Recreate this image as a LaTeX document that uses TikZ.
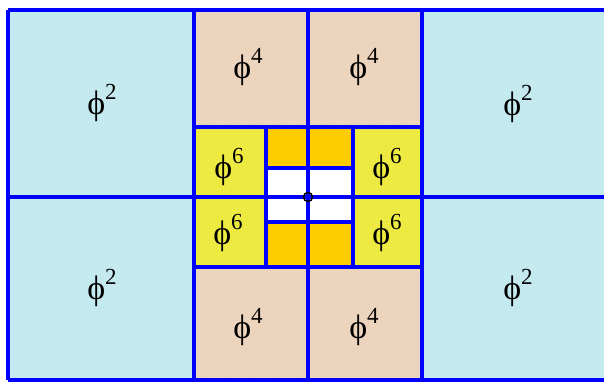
\documentclass[tikz,border=0pt]{standalone}
\usepackage{fontspec}
\setmainfont{Liberation Serif}
\usetikzlibrary{patterns}
\definecolor{wcyan}{RGB}{196,234,240}
\definecolor{wtan}{RGB}{236,210,186}
\definecolor{wyel}{RGB}{236,236,70}
\definecolor{worange}{RGB}{255,204,0}
\definecolor{wblue}{RGB}{0,0,255}
\tikzset{
  gridline/.style={draw=wblue,line width=3.5pt},
  lbl/.style={font=\fontsize{34}{38}\selectfont,inner sep=0pt},
}
\newcommand{\ph}[1]{ϕ\raisebox{0.42em}{\fontsize{23}{26}\selectfont #1}}
\begin{document}
\begin{tikzpicture}[x=1pt,y=-1pt]
\useasboundingbox (0,0) rectangle (604,381);
\fill[white] (0,0) rectangle (604,381);
% regions
\fill[wcyan] (8,10) rectangle (606,380);
\fill[wtan] (194,10) rectangle (422,380);
\fill[wyel] (194,127) rectangle (422,267);
\fill[worange] (266,127) rectangle (353,267);
\fill[white] (266,168) rectangle (353,222);
% textures (subtle)
\fill[pattern=dots,pattern color=yellow!60!orange] (194,127) rectangle (266,267);
\fill[pattern=dots,pattern color=yellow!60!orange] (353,127) rectangle (422,267);
\fill[pattern=crosshatch dots,pattern color=brown!25] (194,10) rectangle (422,127);
\fill[pattern=crosshatch dots,pattern color=brown!25] (194,267) rectangle (422,380);
% grid lines
\draw[gridline] (8,10) -- (606,10);
\draw[gridline] (8,380) -- (606,380);
\draw[gridline] (8,10) -- (8,380);
\draw[gridline] (194,10) -- (194,380);
\draw[gridline] (422,10) -- (422,380);
\draw[gridline] (308,10) -- (308,380);
\draw[gridline] (8,197) -- (606,197);
\draw[gridline] (194,127) -- (422,127);
\draw[gridline] (194,267) -- (422,267);
\draw[gridline] (266,127) -- (266,267);
\draw[gridline] (353,127) -- (353,267);
\draw[gridline] (266,168) -- (353,168);
\draw[gridline] (266,222) -- (353,222);
\node[circle,draw=black,line width=1.5pt,minimum size=9pt,inner sep=0pt] (c) at (308,197) {};
% labels
\node[lbl] (p2a) at (102,103) {\ph{2}};
\node[lbl] (p2b) at (518,104) {\ph{2}};
\node[lbl] (p2c) at (102,288) {\ph{2}};
\node[lbl] (p2d) at (518,288) {\ph{2}};
\node[lbl] (p4a) at (248,67) {\ph{4}};
\node[lbl] (p4b) at (364,67) {\ph{4}};
\node[lbl] (p4c) at (248,327) {\ph{4}};
\node[lbl] (p4d) at (364,327) {\ph{4}};
\node[lbl] (p6a) at (229,167) {\ph{6}};
\node[lbl] (p6b) at (387,167) {\ph{6}};
\node[lbl] (p6c) at (228,233) {\ph{6}};
\node[lbl] (p6d) at (387,233) {\ph{6}};
\end{tikzpicture}
\end{document}
